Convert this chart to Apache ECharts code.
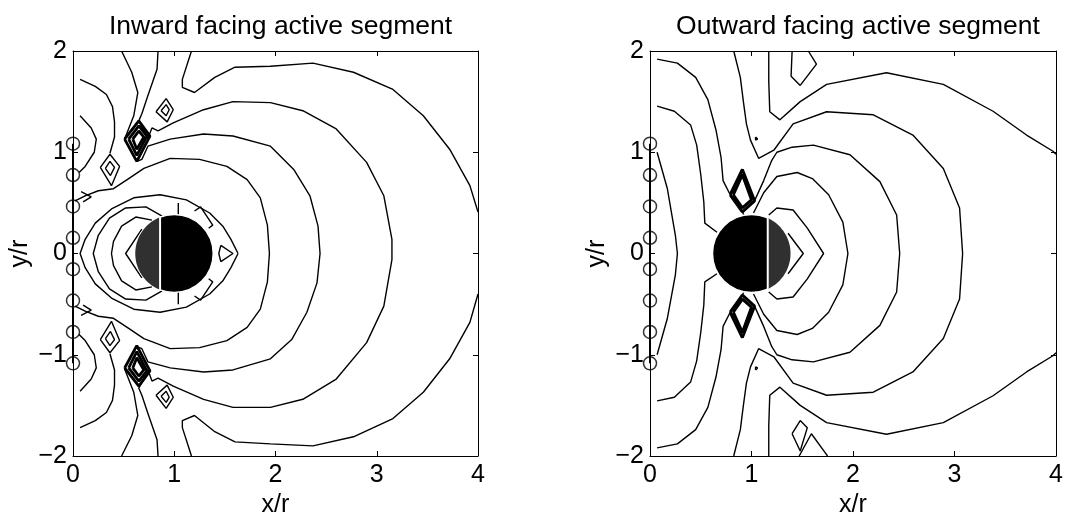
<!DOCTYPE html>
<html><head><meta charset="utf-8">
<script src="https://cdn.jsdelivr.net/npm/echarts@6/dist/echarts.min.js"></script>
<style>html,body{margin:0;padding:0;background:#fff}#c{width:1069px;height:529px}</style>
</head><body><div id="c"></div>
<script>
// ---------- data ----------
const xTicks = [0, 1, 2, 3, 4];
const yTicks = [-2, -1, 0, 1, 2];
const titles = ['Inward facing active segment', 'Outward facing active segment'];
const xName = 'x/r', yName = 'y/r';
// array element positions (open circles) at x = 0
const arrayY = [1.085, 0.775, 0.465, 0.155, -0.155, -0.465, -0.775, -1.085];
// cylinder: [cx, cy, radius, chord x of active segment, side (-1 left cap, 1 right cap)]
const leftDisk = [[1, 0, 0.385, 0.86, -1]];
const rightDisk = [[1, 0, 0.385, 1.16, 1]];

// contour lines, left panel (x/r, y/r)
const leftContours = [
  [[1.17,2.0],[1.08,1.72],[1.08,1.64],[1.20,1.59],[1.40,1.74],[1.60,1.84],[1.95,1.85],[2.37,1.88],[2.77,1.79],[3.16,1.62],[3.46,1.36],[3.72,1.03],[3.92,0.67],[4.0,0.41]],
  [[4.0,-0.40],[3.92,-0.68],[3.72,-1.04],[3.46,-1.37],[3.16,-1.63],[2.77,-1.81],[2.37,-1.90],[1.95,-1.88],[1.60,-1.86],[1.40,-1.76],[1.20,-1.60],[1.08,-1.65],[1.08,-1.72],[1.17,-2.0]],
  [[0.84,2.0],[0.83,1.82],[0.74,1.56],[0.68,1.38],[0.65,1.31],[0.74,1.14],[0.78,1.24],[0.84,1.21],[0.99,1.29],[1.29,1.42],[1.58,1.50],[1.95,1.49],[2.27,1.41],[2.60,1.23],[2.90,0.90],[3.07,0.57],[3.15,0.14],[3.15,-0.06],[3.07,-0.52],[2.90,-0.88],[2.60,-1.24],[2.27,-1.44],[1.95,-1.52],[1.58,-1.52],[1.29,-1.44],[0.99,-1.31],[0.84,-1.23],[0.78,-1.26],[0.74,-1.15],[0.65,-1.33],[0.68,-1.40],[0.74,-1.58],[0.83,-1.84],[0.84,-2.0]],
  [[0.48,2.0],[0.58,1.79],[0.64,1.59],[0.60,1.36],[0.51,1.13],[0.63,0.91],[0.68,0.93],[0.74,1.06],[0.96,1.13],[1.29,1.18],[1.58,1.16],[1.95,1.06],[2.18,0.83],[2.34,0.57],[2.42,0.27],[2.44,0.0],[2.41,-0.29],[2.31,-0.58],[2.16,-0.85],[1.95,-1.04],[1.58,-1.15],[1.29,-1.17],[0.96,-1.13],[0.74,-1.07],[0.68,-0.94],[0.63,-0.92],[0.51,-1.14],[0.60,-1.37],[0.64,-1.60],[0.58,-1.80],[0.48,-2.0]],
  [[0.02,0.52],[0.12,0.57],[0.25,0.62],[0.40,0.64],[0.55,0.74],[0.70,0.84],[0.96,0.94],[1.25,0.93],[1.52,0.86],[1.72,0.73],[1.85,0.55],[1.92,0.28],[1.94,0.0],[1.92,-0.28],[1.85,-0.55],[1.72,-0.73],[1.52,-0.86],[1.25,-0.93],[0.96,-0.94],[0.70,-0.84],[0.55,-0.74],[0.40,-0.64],[0.25,-0.62],[0.12,-0.57],[0.02,-0.52]],
  [[1.63,0.0],[1.56,0.14],[1.48,0.27],[1.35,0.40],[1.12,0.53],[0.86,0.58],[0.60,0.55],[0.38,0.44],[0.22,0.30],[0.12,0.14],[0.07,0.0],[0.12,-0.14],[0.22,-0.30],[0.38,-0.44],[0.60,-0.55],[0.86,-0.58],[1.12,-0.53],[1.35,-0.40],[1.48,-0.27],[1.56,-0.14],[1.63,0.0]],
  [[0.88,0.37],[0.72,0.46],[0.52,0.45],[0.36,0.35],[0.25,0.18],[0.20,0.0],[0.25,-0.18],[0.36,-0.35],[0.52,-0.45],[0.72,-0.46],[0.88,-0.37]],
  [[0.78,0.33],[0.62,0.36],[0.48,0.27],[0.40,0.12],[0.38,0.0],[0.40,-0.12],[0.48,-0.27],[0.62,-0.36],[0.78,-0.33]],
  [[0.68,0.24],[0.52,0.0],[0.68,-0.24]],
  [[1.46,0.08],[1.58,0.0],[1.46,-0.08],[1.44,0.0],[1.46,0.08]],
  [[1.20,0.42],[1.26,0.46],[1.38,0.28],[1.34,0.25]],
  [[1.20,-0.42],[1.26,-0.46],[1.38,-0.28],[1.34,-0.25]],
  [[1.04,0.38],[1.04,0.50]],
  [[1.04,-0.38],[1.04,-0.50]],
  [[0.82,1.40],[0.92,1.53],[0.99,1.42],[0.93,1.30],[0.82,1.40]],
  [[0.87,1.41],[0.92,1.47],[0.95,1.42],[0.92,1.36],[0.87,1.41]],
  [[0.82,-1.40],[0.92,-1.53],[0.99,-1.42],[0.93,-1.30],[0.82,-1.40]],
  [[0.87,-1.41],[0.92,-1.47],[0.95,-1.42],[0.92,-1.36],[0.87,-1.41]],
  [[0.27,0.85],[0.365,0.98],[0.46,0.86],[0.38,0.67],[0.27,0.85]],
  [[0.32,0.84],[0.365,0.91],[0.41,0.85],[0.37,0.77],[0.32,0.84]],
  [[0.27,-0.85],[0.365,-0.98],[0.46,-0.86],[0.38,-0.67],[0.27,-0.85]],
  [[0.32,-0.84],[0.365,-0.91],[0.41,-0.85],[0.37,-0.77],[0.32,-0.84]],
  [[0.08,0.61],[0.18,0.56],[0.10,0.51]],
  [[0.08,-0.61],[0.18,-0.56],[0.10,-0.51]],
  [[0.07,1.72],[0.22,1.65],[0.33,1.57],[0.39,1.45],[0.41,1.30],[0.41,1.15],[0.365,0.99]],
  [[0.07,-1.72],[0.22,-1.65],[0.33,-1.57],[0.39,-1.45],[0.41,-1.30],[0.41,-1.15],[0.365,-0.99]],
  [[0.07,1.36],[0.18,1.24],[0.23,1.13],[0.21,1.00],[0.12,0.86],[0.06,0.80]],
  [[0.07,-1.36],[0.18,-1.24],[0.23,-1.13],[0.21,-1.00],[0.12,-0.86],[0.06,-0.80]]
];
// tightly packed contours (drawn heavy), left panel
const leftDense = [
  [[0.51,1.13],[0.65,1.31],[0.76,1.16],[0.63,0.91],[0.51,1.13]],
  [[0.55,1.13],[0.65,1.26],[0.73,1.16],[0.63,0.97],[0.55,1.13]],
  [[0.59,1.13],[0.65,1.21],[0.70,1.15],[0.63,1.03],[0.59,1.13]],
  [[0.51,-1.13],[0.65,-1.31],[0.76,-1.16],[0.63,-0.91],[0.51,-1.13]],
  [[0.55,-1.13],[0.65,-1.26],[0.73,-1.16],[0.63,-0.97],[0.55,-1.13]],
  [[0.59,-1.13],[0.65,-1.21],[0.70,-1.15],[0.63,-1.03],[0.59,-1.13]]
];
// contour lines, right panel
const rightContours = [
  [[0.07,1.0],[0.17,0.645],[0.25,0.18],[0.27,0.0],[0.25,-0.21],[0.17,-0.645],[0.07,-1.0]],
  [[0.07,1.455],[0.24,1.405],[0.40,1.27],[0.46,1.07],[0.50,0.78],[0.53,0.51],[0.54,0.30],[0.66,0.21]],
  [[0.66,-0.20],[0.54,-0.28],[0.53,-0.51],[0.50,-0.78],[0.46,-1.06],[0.40,-1.27],[0.24,-1.42],[0.07,-1.455]],
  [[0.07,1.92],[0.27,1.88],[0.45,1.74],[0.57,1.52],[0.65,1.22],[0.70,0.95],[0.72,0.72],[0.79,0.58]],
  [[0.07,-1.92],[0.27,-1.88],[0.45,-1.74],[0.57,-1.52],[0.65,-1.22],[0.70,-0.95],[0.72,-0.72],[0.79,-0.58]],
  [[1.36,0.20],[1.51,0.0],[1.36,-0.20]],
  [[1.17,0.38],[1.25,0.45],[1.41,0.43],[1.55,0.25],[1.71,0.0],[1.55,-0.25],[1.41,-0.43],[1.25,-0.45],[1.17,-0.38]],
  [[1.02,0.40],[1.12,0.60],[1.25,0.76],[1.45,0.80],[1.60,0.74],[1.76,0.58],[1.90,0.31],[1.95,0.0],[1.90,-0.31],[1.76,-0.58],[1.60,-0.74],[1.45,-0.80],[1.25,-0.76],[1.12,-0.60],[1.02,-0.40]],
  [[1.03,0.52],[1.12,0.72],[1.20,0.92],[1.25,1.00],[1.40,1.05],[1.61,1.07],[1.97,0.975],[2.265,0.71],[2.43,0.38],[2.46,0.0],[2.43,-0.38],[2.265,-0.71],[1.97,-0.975],[1.61,-1.07],[1.40,-1.05],[1.25,-1.00],[1.20,-0.92],[1.12,-0.72],[1.03,-0.52]],
  [[0.825,2.0],[0.89,1.74],[0.92,1.50],[0.95,1.28],[0.99,1.12],[1.07,0.94],[1.22,1.02],[1.41,1.28],[1.74,1.40],[2.20,1.37],[2.59,1.17],[2.89,0.84],[3.05,0.45],[3.08,0.0],[3.05,-0.45],[2.89,-0.84],[2.59,-1.17],[2.20,-1.37],[1.74,-1.40],[1.41,-1.28],[1.22,-1.02],[1.07,-0.94],[0.99,-1.12],[0.95,-1.28],[0.92,-1.50],[0.89,-1.74],[0.825,-2.0]],
  [[1.17,2.0],[1.17,1.70],[1.18,1.40],[1.28,1.32],[1.48,1.50],[1.74,1.67],[2.33,1.785],[2.89,1.67],[3.38,1.405],[3.71,1.17],[3.97,1.01],[4.0,0.98]],
  [[4.0,-0.98],[3.97,-1.01],[3.71,-1.17],[3.38,-1.405],[2.89,-1.67],[2.33,-1.785],[1.74,-1.67],[1.48,-1.50],[1.28,-1.32],[1.18,-1.40],[1.17,-1.70],[1.17,-2.0]],
  [[1.40,2.0],[1.39,1.75],[1.48,1.66],[1.64,1.87],[1.56,2.0]],
  [[1.40,-1.78],[1.48,-1.65],[1.55,-1.72],[1.48,-1.95],[1.40,-1.78]],
  [[1.47,-2.0],[1.59,-1.78],[1.72,-1.96],[1.75,-2.0]],
  [[1.04,1.15],[1.06,1.13],[1.04,1.12],[1.04,1.15]],
  [[1.04,-1.15],[1.06,-1.13],[1.04,-1.12],[1.04,-1.15]],
  [[0.91,0.41],[0.93,0.37]],
  [[0.91,-0.41],[0.93,-0.37]]
];
const rightDense = [
  [[0.79,0.58],[0.91,0.83],[1.03,0.52],[0.91,0.41],[0.79,0.58]],
  [[0.82,0.58],[0.91,0.78],[1.00,0.53],[0.91,0.45],[0.82,0.58]],
  [[0.79,-0.58],[0.91,-0.83],[1.03,-0.52],[0.91,-0.41],[0.79,-0.58]],
  [[0.82,-0.58],[0.91,-0.78],[1.00,-0.53],[0.91,-0.45],[0.82,-0.58]]
];

// ---------- chart ----------
const FONT = 'Liberation Sans, Arial, Helvetica, sans-serif';
const grids = [
  {left: 73, top: 51, width: 405, height: 405},
  {left: 650, top: 51, width: 406, height: 405}
];
const lab = {color: '#000', fontSize: 25, fontFamily: FONT};
function fmt(v){ return String(v).replace('-', '\u2212'); }
const xAxes = [], yAxes = [];
grids.forEach((g, i) => {
  const common = {type: 'value', min: xTicks[0], max: xTicks[xTicks.length-1], interval: 1, gridIndex: i,
    splitLine: {show: false}, axisLine: {show: true, onZero: false, lineStyle: {color: '#000', width: 1}},
    axisTick: {show: true, inside: true, length: 5, lineStyle: {color: '#000'}}};
  xAxes.push(Object.assign({}, common, {position: 'bottom', name: xName, nameLocation: 'middle', nameGap: 36,
    nameTextStyle: lab, axisLabel: Object.assign({margin: 7, formatter: fmt}, lab)}));
  xAxes.push(Object.assign({}, common, {position: 'top', axisLabel: {show: false}}));
  const cy = {type: 'value', min: yTicks[0], max: yTicks[yTicks.length-1], interval: 1, gridIndex: i,
    splitLine: {show: false}, axisLine: {show: true, onZero: false, lineStyle: {color: '#000', width: 1}},
    axisTick: {show: true, inside: true, length: 5, lineStyle: {color: '#000'}}};
  yAxes.push(Object.assign({}, cy, {position: 'left', name: yName, nameLocation: 'middle', nameGap: 40,
    nameRotate: 90, nameTextStyle: lab, axisLabel: Object.assign({margin: 6, formatter: fmt}, lab)}));
  yAxes.push(Object.assign({}, cy, {position: 'right', axisLabel: {show: false}}));
});

const series = [];
function addLines(list, gi, width, z){
  list.forEach(pts => series.push({type: 'line', xAxisIndex: gi*2, yAxisIndex: gi*2, data: pts,
    showSymbol: false, symbol: 'none', silent: true, animation: false, z: z,
    lineStyle: {color: '#000', width: width}}));
}
addLines(leftContours, 0, 1.4, 2);
addLines(leftDense, 0, 2.8, 2);
addLines(rightContours, 1, 1.4, 2);
addLines(rightDense, 1, 3, 2);

function renderDisk(params, api){
  const cx = api.value(0), cy = api.value(1), r = api.value(2), chord = api.value(3), side = api.value(4);
  const c = api.coord([cx, cy]);
  const rp = api.size([r, r]);
  const rpx = (rp[0] + rp[1]) / 2;
  const t0 = Math.acos((chord - cx) / r);
  const a0 = side < 0 ? t0 : -t0, a1 = side < 0 ? 2*Math.PI - t0 : t0;
  const pts = [];
  for (let k = 0; k <= 48; k++){ const a = a0 + (a1 - a0)*k/48; pts.push([c[0] + rpx*Math.cos(a), c[1] - rpx*Math.sin(a)]); }
  const h = Math.sqrt(r*r - (chord - cx)*(chord - cx));
  const p1 = api.coord([chord, cy + h]), p2 = api.coord([chord, cy - h]);
  return {type: 'group', children: [
    {type: 'circle', shape: {cx: c[0], cy: c[1], r: rpx}, style: {fill: '#000', stroke: '#fff', lineWidth: 1.5}},
    {type: 'polygon', shape: {points: pts}, style: {fill: '#303030'}},
    {type: 'line', shape: {x1: p1[0], y1: p1[1], x2: p2[0], y2: p2[1]}, style: {stroke: '#fff', lineWidth: 2}}
  ]};
}
[leftDisk, rightDisk].forEach((d, gi) => {
  series.push({type: 'custom', xAxisIndex: gi*2, yAxisIndex: gi*2, data: d, renderItem: renderDisk,
    clip: false, silent: true, animation: false, z: 5});
  series.push({type: 'line', xAxisIndex: gi*2, yAxisIndex: gi*2,
    data: [[0, arrayY[0]], [0, arrayY[arrayY.length-1]]], showSymbol: false, symbol: 'none', silent: true,
    animation: false, clip: false, z: 6, lineStyle: {color: '#000', width: 2}});
  series.push({type: 'scatter', xAxisIndex: gi*2, yAxisIndex: gi*2, data: arrayY.map(y => [0, y]),
    symbol: 'circle', symbolSize: 13, clip: false, silent: true, animation: false, z: 7,
    itemStyle: {color: 'rgba(255,255,255,0)', borderColor: '#000', borderWidth: 1.5}});
});

const chart = echarts.init(document.getElementById('c'), null, {renderer: 'canvas'});
chart.setOption({
  backgroundColor: '#fff',
  animation: false,
  title: titles.map((t, i) => ({text: t, left: grids[i].left + grids[i].width/2, top: 8, textAlign: 'center',
    textStyle: {color: '#000', fontSize: 26.5, fontWeight: 'normal', fontFamily: FONT}})),
  grid: grids,
  xAxis: xAxes,
  yAxis: yAxes,
  series: series
});
</script></body></html>
